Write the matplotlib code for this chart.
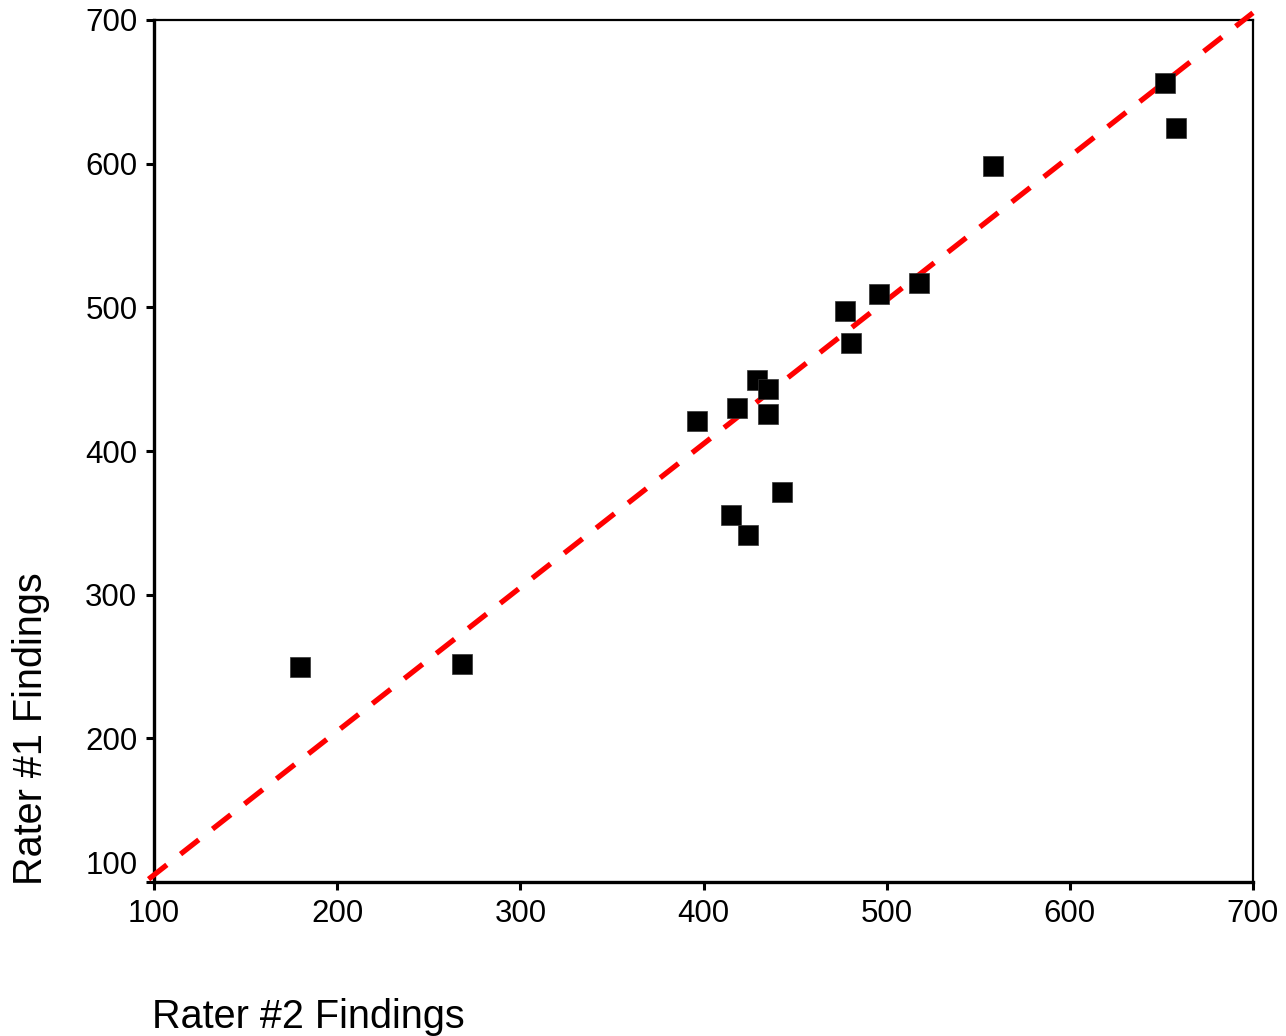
import matplotlib
matplotlib.use("Agg")
import matplotlib.pyplot as plt
import matplotlib.transforms as mtransforms

plt.rcParams['font.family'] = ['Liberation Sans', 'DejaVu Sans']

# readings of the two raters
rater2 = [179.7, 268.2, 396.3, 418.1, 429.0, 435.2, 435.2, 443.0, 415.0, 424.2,
          477.2, 480.4, 496.0, 517.8, 558.0, 651.8, 657.9]
rater1 = [249.6, 251.7, 420.7, 429.7, 449.4, 443.4, 425.7, 371.2, 355.2, 341.3,
          497.2, 475.3, 509.1, 516.7, 598.4, 655.9, 624.6]

# dashed reference line
line_x = [97, 700]
line_y = [102, 705]

ticks = [100, 200, 300, 400, 500, 600, 700]

fig = plt.figure(figsize=(12.86, 10.36), dpi=100)
ax = fig.add_axes([0.1198, 0.1486, 0.8545, 0.8321])

ax.plot(line_x, line_y, color='#ff0000', lw=3.8, dashes=(4.4, 3.3),
        clip_on=False, zorder=3)
ax.plot(rater2, rater1, 's', color='black', markersize=14.5,
        markeredgecolor='#333333', markeredgewidth=0.5, zorder=4)

ax.set_xlim(100, 700)
ax.set_ylim(100, 700)
ax.set_xticks(ticks)
ax.set_yticks(ticks)
ax.tick_params(axis='both', direction='out', length=6, width=2.2,
               labelsize=22.5, pad=6)

for side in ['left', 'bottom']:
    ax.spines[side].set_linewidth(2.4)
for side in ['top', 'right']:
    ax.spines[side].set_linewidth(1.6)

# lift the lowest y label like the original
lab = ax.get_yticklabels()[0]
lab.set_transform(lab.get_transform() +
                  mtransforms.ScaledTranslation(0, 20 / 100, fig.dpi_scale_trans))

ax.set_xlabel('Rater #2 Findings', fontsize=28.5, ha='left')
ax.xaxis.set_label_coords(-0.002, -0.135)
ax.set_ylabel('Rater #1 Findings', fontsize=28.5, ha='left')
ax.yaxis.set_label_coords(-0.095, -0.003)

fig.savefig('out.png', dpi=100)
